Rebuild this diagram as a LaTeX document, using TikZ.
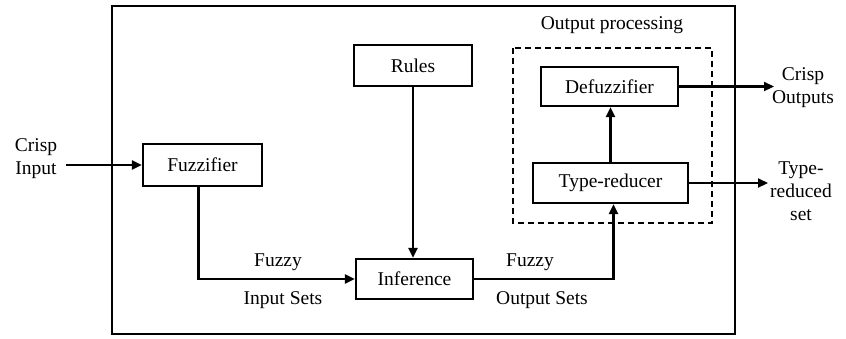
\documentclass[tikz,border=0pt]{standalone}
\usepackage{fontspec}
\setmainfont{Liberation Serif}
\usetikzlibrary{arrows.meta}
\begin{document}
\begin{tikzpicture}[x=1pt,y=-1pt,
  every node/.style={font=\fontsize{19.5}{23}\selectfont, inner sep=0pt},
  blk/.style={draw, line width=2.2pt, minimum width=#1, minimum height=40pt},
  arr/.style={line width=2.2pt, -{Triangle[length=10pt,width=9pt]}},
  lbl/.style={align=center}]
  \useasboundingbox (0,0) rectangle (846,338);

  % outer system frame and output-processing group
  \draw[line width=2.2pt] (112,6) rectangle (735,334);
  \draw[line width=1.8pt, dash pattern=on 6pt off 4pt] (513,48) rectangle (712,223);
  \node (optitle) at (612,25) {Output processing};

  % processing blocks
  \node[blk=119pt, minimum height=42pt] (fuzz) at (202.5,165) {Fuzzifier};
  \node[blk=118pt, minimum height=41pt] (rules) at (413,65.5) {Rules};
  \node[blk=117pt] (inf) at (414.5,279) {Inference};
  \node[blk=137pt, minimum height=39pt] (defuzz) at (609.5,86.5) {Defuzzifier};
  \node[blk=155pt] (tred) at (610.5,183) {Type-reducer};

  % external inputs/outputs
  \node[lbl] (cin) at (36,159) {Crisp\\Input};
  \node[lbl] (cout) at (803,88) {Crisp\\Outputs};
  \node[lbl] (trout) at (801,191) {Type-\\reduced\\set};
  \coordinate (cinEnd) at (66,165);
  \coordinate (coutEnd) at (774,86.5);
  \coordinate (troutEnd) at (768,183);

  % signal labels
  \node (fz1) at (278,262) {Fuzzy};
  \node (ins) at (283,300) {Input Sets};
  \node (fz2) at (530,262) {Fuzzy};
  \node (outs) at (542,300) {Output Sets};

  % connections
  \draw[arr] (cinEnd) -- (fuzz.west);
  \draw[arr] ([xshift=-4pt]fuzz.south) |- (inf.west);
  \draw[arr] (rules.south) -- (rules.south |- inf.north);
  \draw[arr] (inf.east) -| ([xshift=3pt]tred.south);
  \draw[arr] (tred.north) -- (defuzz.south -| tred.north);
  \draw[arr] (defuzz.east) -- (coutEnd);
  \draw[arr] (tred.east) -- (troutEnd);
\end{tikzpicture}
\end{document}
